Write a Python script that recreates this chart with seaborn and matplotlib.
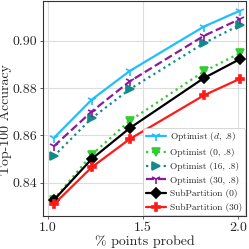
import matplotlib
matplotlib.use("Agg")
import matplotlib.pyplot as plt
import seaborn as sns
import pandas as pd

points_probed = [1.03, 1.23, 1.43, 1.82, 2.01]
optimist_d = [0.8589, 0.8751, 0.8872, 0.9059, 0.9126]
optimist_0 = [0.8330, 0.8519, 0.8662, 0.8870, 0.8947]
optimist_16 = [0.8512, 0.8673, 0.8795, 0.8989, 0.9066]
optimist_30 = [0.8554, 0.8701, 0.8828, 0.9020, 0.9091]
subpart_0 = [0.8327, 0.8501, 0.8631, 0.8842, 0.8922]
subpart_30 = [0.8309, 0.8466, 0.8585, 0.8769, 0.8839]

labels = ["Optimist ($d$, .8)", "Optimist (0, .8)", "Optimist (16, .8)",
          "Optimist (30, .8)", "SubPartition (0)", "SubPartition (30)"]
series = [optimist_d, optimist_0, optimist_16, optimist_30, subpart_0, subpart_30]
colors = ["#1fbfff", "#33cc33", "#138a8a", "#8b1a9e", "black", "#ff1a1a"]
markers = ["1", "v", ">", "1", "D", "P"]
styles = ["-", ":", ":", "--", "-", "-"]

rows = []
for lab, vals in zip(labels, series):
    for x, y in zip(points_probed, vals):
        rows.append({"x": x, "y": y, "series": lab})
df = pd.DataFrame(rows)

sns.set_theme(style="whitegrid")
plt.rcParams["font.family"] = "serif"
plt.rcParams["font.serif"] = ["cmr10", "DejaVu Serif"]
plt.rcParams["mathtext.fontset"] = "cm"
plt.rcParams["axes.formatter.use_mathtext"] = True

fig = plt.figure(figsize=(2.49, 2.49), dpi=100)
ax = fig.add_axes([0.173, 0.133, 0.815, 0.863])

for lab, c, m, ls in zip(labels, colors, markers, styles):
    sub = df[df["series"] == lab]
    ms = 7 if m in ("1",) else 5.5
    sns.lineplot(data=sub, x="x", y="y", ax=ax, color=c, marker=m, linestyle=ls,
                 linewidth=1.6, markersize=ms, markeredgecolor=c, markeredgewidth=1.2,
                 label=lab)

ax.set_xlim(0.974, 2.042)
ax.set_ylim(0.8261, 0.9167)
ax.set_xticks([1.0, 1.5, 2.0])
ax.set_yticks([0.84, 0.86, 0.88, 0.90])
ax.set_xticklabels(["1.0", "1.5", "2.0"])
ax.set_yticklabels(["0.84", "0.86", "0.88", "0.90"])
ax.tick_params(labelsize=10, length=2.5, width=0.6, pad=1.5, left=True, bottom=True, color="#444444")
ax.set_xlabel("% points probed", fontsize=10, labelpad=1)
ax.set_ylabel("Top-100 Accuracy", fontsize=10, labelpad=0)
ax.yaxis.set_label_coords(-0.155, 0.45)
ax.grid(True, color="#dddddd", linewidth=0.8)
for s in ax.spines.values():
    s.set_color("#333333")
    s.set_linewidth(0.8)

leg = ax.legend(loc="lower right", fontsize=6.8, frameon=True, handlelength=2.2,
                borderpad=0.3, labelspacing=0.5, handletextpad=0.4,
                borderaxespad=0.1, fancybox=True, framealpha=0.9)
leg.get_frame().set_edgecolor("#cccccc")
leg.get_frame().set_linewidth(0.6)

fig.savefig("out.png", dpi=100)
